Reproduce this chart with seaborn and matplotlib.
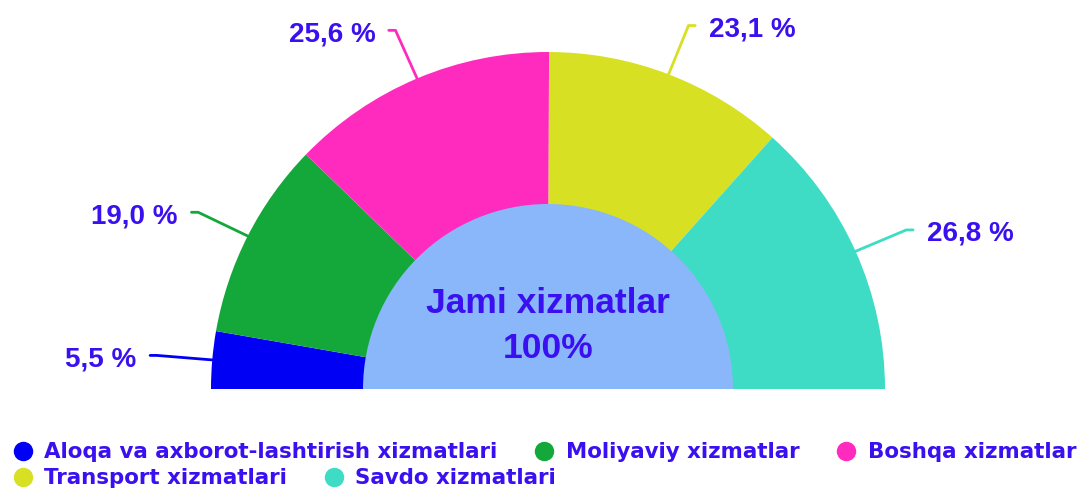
import numpy as np
import matplotlib
matplotlib.use("Agg")
import matplotlib.pyplot as plt
from matplotlib.patches import Wedge
from matplotlib.lines import Line2D
import seaborn as sns

sns.set_style("white")
plt.rcParams['font.family'] = ['Liberation Sans', 'DejaVu Sans']

# data
categories = ["Aloqa va axborot-lashtirish xizmatlari", "Moliyaviy xizmatlar",
              "Boshqa xizmatlar", "Transport xizmatlari", "Savdo xizmatlari"]
shares = [5.5, 19.0, 25.6, 23.1, 26.8]
colors = ["#0000F5", "#14A83B", "#FF2BBE", "#D8E024", "#3EDCC5"]
center_title = "Jami xizmatlar"
center_value = "100%"
text_color = "#3A10F0"
center_color = "#8AB7FA"

W, H = 1084, 491
R = 337.0  # outer radius in px
cx, cy = 548, 389  # centre (px, from top)

fig = plt.figure(figsize=(W / 100, H / 100), dpi=100)
ax = fig.add_axes([0, 0, 1, 1])

# half donut: the second half is an invisible wedge
wedges, _ = ax.pie(shares + [sum(shares)], colors=colors + ["none"],
                   startangle=180, counterclock=False, radius=1,
                   wedgeprops=dict(linewidth=0))
wedges[-1].set_visible(False)

r_in = 185 / R
ax.add_patch(Wedge((0, 0), r_in, 0, 180, facecolor=center_color, linewidth=0, zorder=3))
ax.text(0, 0.255, center_title, ha="center", va="center", fontsize=25.5,
        fontweight="bold", color=text_color, zorder=4)
ax.text(0, 0.12, center_value, ha="center", va="center", fontsize=25.5,
        fontweight="bold", color=text_color, zorder=4)

# labels with leader lines
for w, v, c in zip(wedges[:-1], shares, colors):
    mid = np.deg2rad((w.theta1 + w.theta2) / 2)
    x0, y0 = np.cos(mid), np.sin(mid)
    x1, y1 = 1.165 * np.cos(mid), 1.155 * np.sin(mid)
    side = 1 if x0 > 0 else -1
    x2 = x1 + side * 0.02
    ax.plot([x0, x1, x2], [y0, y1, y1], color=c, lw=2, solid_capstyle="round",
            solid_joinstyle="round")
    lbl = f"{v:.1f}".replace(".", ",") + " %"
    ax.text(x2 + side * 0.04, y1 - 0.012, lbl, ha="left" if side > 0 else "right",
            va="center", fontsize=20, fontweight="bold", color=text_color)

ax.set_xlim(-cx / R, (W - cx) / R)
ax.set_ylim(-(H - cy) / R, cy / R)
ax.axis("off")

handles = [Line2D([], [], marker="o", ls="none", markersize=14, color=c,
                  markeredgewidth=0) for c in colors]
leg_kw = dict(frameon=False, loc="center left", handlelength=1,
              handletextpad=0.5, columnspacing=1.7, borderpad=0, borderaxespad=0,
              labelcolor=text_color,
              prop=dict(family="DejaVu Sans", weight="bold", size=15.4))
l1 = fig.legend(handles[:3], categories[:3], ncol=3,
                bbox_to_anchor=(0.011, 1 - 452 / H), **leg_kw)
l2 = fig.legend(handles[3:], categories[3:], ncol=2,
                bbox_to_anchor=(0.011, 1 - 478 / H), **leg_kw)

fig.savefig("out.png", dpi=100)
